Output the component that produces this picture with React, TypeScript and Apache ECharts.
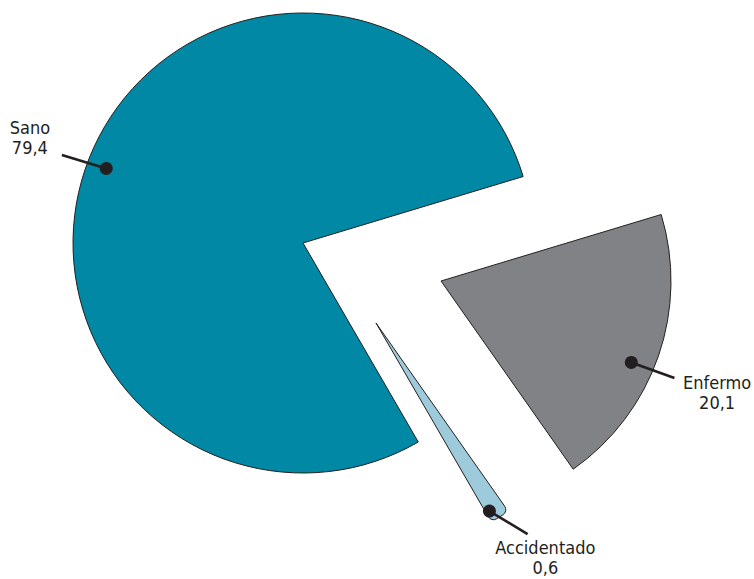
import React, { useEffect, useRef } from 'react';
import * as echarts from 'echarts';

// ---- data ----
const categories = ['Enfermo', 'Accidentado', 'Sano'];
const values = [20.1, 0.6, 79.4];
const valueLabels = ['20,1', '0,6', '79,4'];

// ---- styles / layout ----
const colors = ['#808285', '#9dcbdb', '#0088a4'];
const centers: [number, number][] = [[441, 281], [376, 323], [303, 243]];
const RADIUS = 230;
const START_ANGLE = 16.8;
const MIN_ANGLE = 5;
const INK = '#231f20';
const FONT = '"DejaVu Sans Condensed", "Liberation Sans Narrow", "DejaVu Sans", sans-serif';
// leader: dot radius fraction, dot angle shift (deg), end radius fraction, end angle shift, text offset
const leaders = [
  { dotF: 0.9, dotA: -4.1, endF: 1.099, endA: -3.5, tx: 42.7, ty: 14.3 },
  { dotF: 0.955, dotA: -1.5, endF: 1.13, endA: 3.1, tx: 17.7, ty: 23 },
  { dotF: 0.915, dotA: 0.8, endF: 1.116, endA: 1.5, tx: -32, ty: -17 },
];

export default function App() {
  const ref = useRef<HTMLDivElement>(null);
  useEffect(() => {
    document.body.style.margin = '0';
    if (!ref.current) return;
    const chart = echarts.init(ref.current, null, { renderer: 'svg' });
    const series = categories.map((_, i) => ({
      type: 'pie' as const,
      center: centers[i],
      radius: RADIUS,
      startAngle: START_ANGLE,
      minAngle: MIN_ANGLE,
      clockwise: true,
      silent: true,
      avoidLabelOverlap: false,
      label: { show: false },
      labelLine: { show: false },
      emphasis: { disabled: true },
      data: categories.map((name, j) => ({
        name,
        value: values[j],
        itemStyle:
          j === i
            ? {
                color: colors[j],
                borderColor: INK,
                borderWidth: 1,
                borderRadius: name === 'Accidentado' ? [0, 6] : 0,
              }
            : { color: 'rgba(0,0,0,0)', borderWidth: 0 },
      })),
    }));
    chart.setOption({ animation: false, backgroundColor: '#ffffff', series });

    // annotations from the library's computed pie layout
    const model: any = (chart as any).getModel();
    const graphics: any[] = [];
    categories.forEach((name, i) => {
      const data = model.getSeriesByIndex(i).getData();
      const lay = data.getItemLayout(i);
      const mid = (lay.startAngle + lay.endAngle) / 2;
      const midDeg = (-mid * 180) / Math.PI;
      const L = leaders[i];
      const pt = (f: number, shift: number) => {
        const a = ((midDeg + shift) * Math.PI) / 180;
        return [lay.cx + lay.r * f * Math.cos(a), lay.cy - lay.r * f * Math.sin(a)];
      };
      const d = pt(L.dotF, L.dotA);
      const e = pt(L.endF, L.endA);
      graphics.push({
        type: 'line',
        z: 100,
        shape: { x1: d[0], y1: d[1], x2: e[0], y2: e[1] },
        style: { stroke: INK, lineWidth: 2.6 },
      });
      graphics.push({
        type: 'circle',
        z: 101,
        shape: { cx: d[0], cy: d[1], r: 6.5 },
        style: { fill: INK },
      });
      graphics.push({
        type: 'text',
        z: 102,
        x: e[0] + L.tx,
        y: e[1] + L.ty,
        style: {
          text: name + '\n' + valueLabels[i],
          fill: INK,
          fontSize: 18,
          fontFamily: FONT,
          lineHeight: 20,
          align: 'center',
          verticalAlign: 'middle',
        },
      });
    });
    chart.setOption({ graphic: { elements: graphics } });
    return () => chart.dispose();
  }, []);
  return <div ref={ref} style={{ width: 754, height: 579 }} />;
}
